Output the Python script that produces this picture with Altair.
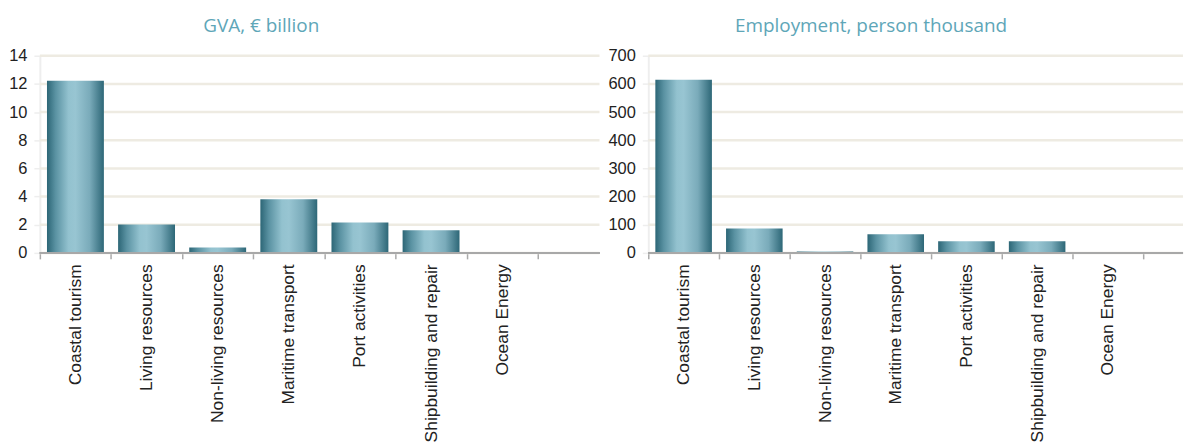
import altair as alt
import pandas as pd

categories = ["Coastal tourism", "Living resources", "Non-living resources",
              "Maritime transport", "Port activities", "Shipbuilding and repair",
              "Ocean Energy"]
gva = [12.23, 2.02, 0.39, 3.8, 2.16, 1.6, 0.0]
employment = [615, 87, 5, 66, 41, 41, 0]

gva_ticks = [0, 2, 4, 6, 8, 10, 12, 14]
emp_ticks = [0, 100, 200, 300, 400, 500, 600, 700]

grad = alt.Gradient(
    gradient="linear",
    stops=[
        alt.GradientStop(color="#2c6676", offset=0),
        alt.GradientStop(color="#5a92a2", offset=0.15),
        alt.GradientStop(color="#93c2cf", offset=0.38),
        alt.GradientStop(color="#98c5d2", offset=0.5),
        alt.GradientStop(color="#7aabba", offset=0.75),
        alt.GradientStop(color="#2d6777", offset=1),
    ],
    x1=0, x2=1, y1=0, y2=0,
)

FONT = "Liberation Sans"


def panel(values, ticks, title, width, band_range, title_dx):
    df = pd.DataFrame({"cat": categories, "val": values})
    tdf = pd.DataFrame({"t": ticks})
    yscale = alt.Scale(domain=[ticks[0], ticks[-1]], nice=False)
    yaxis = alt.Axis(
        values=ticks,
        labelFont=FONT,
        labelFontSize=16.5,
        labelColor="#222222",
        labelPadding=7,
        tickColor="#eeeeee",
        tickSize=6,
        tickWidth=1.5,
        domainColor="#eeeeee",
        domainWidth=2,
        grid=False,
    )
    x = alt.X(
        "cat:N",
        sort=categories,
        title=None,
        scale=alt.Scale(range=[0, band_range], paddingInner=0, paddingOuter=0),
        axis=alt.Axis(
            labelAngle=-90,
            labelAlign="right",
            labelBaseline="middle",
            labelFont=FONT,
            labelFontSize=17.5,
            labelColor="#222222",
            labelPadding=5,
            labelLimit=400,
            tickBand="extent",
            tickColor="#aaaaaa",
            tickSize=6,
            tickWidth=1.5,
            domain=False,
            grid=False,
        ),
    )
    grid = alt.Chart(tdf).mark_rule(color="#eeebe2", strokeWidth=2.5).encode(
        x=alt.value(0), x2=alt.value(width),
        y=alt.Y("t:Q", scale=yscale, axis=yaxis, title=None),
    )
    bars = alt.Chart(df).mark_bar(
        color=grad, width=alt.RelativeBandSize(0.8)
    ).encode(x=x, y=alt.Y("val:Q", scale=yscale, axis=yaxis, title=None))
    base = alt.Chart(df).mark_rule(color="#a8a8a8", strokeWidth=2).encode(
        x=alt.value(0), x2=alt.value(width),
        y=alt.Y(datum=0, scale=yscale, axis=yaxis),
    )
    return alt.layer(grid, bars, base).properties(
        width=width,
        height=198,
        title=alt.TitleParams(
            title,
            anchor="start",
            frame="group",
            dx=title_dx,
            font="Open Sans",
            fontSize=19,
            fontWeight="normal",
            color="#5ea6b8",
            offset=12,
        ),
    )


left = panel(gva, gva_ticks, "GVA, € billion", 562, 500, 164)
right = panel(employment, emp_ticks, "Employment, person thousand", 537, 497, 87)

chart = alt.hconcat(left, right, spacing=6).properties(
    padding={"left": 0, "top": 8, "right": 0, "bottom": 2}
).configure_view(stroke=None)

chart.save("out.html", embed_options={"renderer": "svg", "actions": False})
